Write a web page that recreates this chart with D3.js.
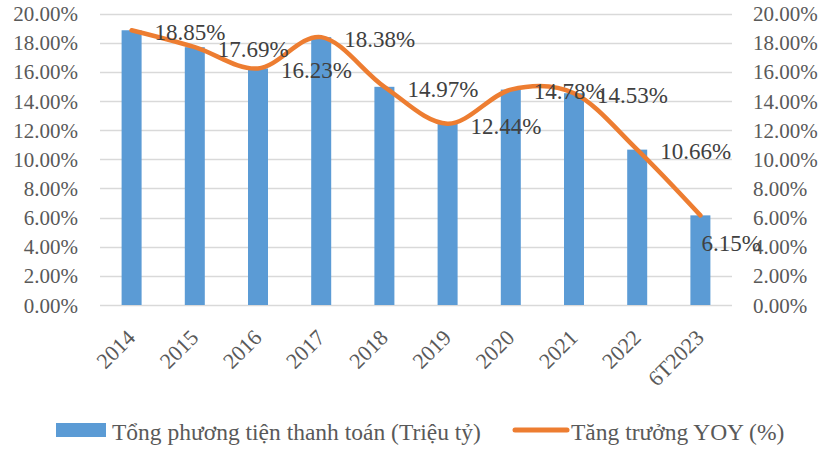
<!DOCTYPE html>
<html>
<head>
<meta charset="utf-8">
<script src="https://cdn.jsdelivr.net/npm/d3@7"></script>
<style>
	html, body { margin: 0; padding: 0; background: #fff; }
	svg { display: block; }
	text { font-family: "Liberation Serif", "Times New Roman", serif; }
</style>
</head>
<body>
<script>
// chart data
var categories = ['2014', '2015', '2016', '2017', '2018', '2019', '2020', '2021', '2022', '6T2023'];
var barValues = [0.1885, 0.1769, 0.1623, 0.1838, 0.1497, 0.1244, 0.1478, 0.1453, 0.1066, 0.0615];
var yoyValues = [0.1885, 0.1769, 0.1623, 0.1838, 0.1497, 0.1244, 0.1478, 0.1453, 0.1066, 0.0615];
var yTicks = [0, 0.02, 0.04, 0.06, 0.08, 0.10, 0.12, 0.14, 0.16, 0.18, 0.20];
var labelPlacement = ['right', 'right', 'right', 'right', 'right', 'right', 'right', 'right', 'right', 'below'];
var seriesNames = ['Tổng phương tiện thanh toán (Triệu tỷ)', 'Tăng trưởng YOY (%)'];

var width = 825,
	height = 451,
	plotLeft = 100,
	plotRight = 732,
	plotTop = 13.5,
	plotBottom = 305,
	barWidth = 20,
	barColor = '#5B9BD5',
	lineColor = '#ED7D31',
	gridColor = '#D9D9D9',
	axisTextColor = '#595959',
	labelColor = '#404040';

var svg = d3.select('body').append('svg')
	.attr('width', width)
	.attr('height', height);

var x = d3.scaleBand()
	.domain(categories)
	.range([plotLeft, plotRight]);

var y = d3.scaleLinear()
	.domain([0, 0.20])
	.range([plotBottom, plotTop]);

// secondary axis, same range as primary
var y2 = d3.scaleLinear()
	.domain([0, 0.20])
	.range([plotBottom, plotTop]);

var pct = d3.format('.2%');

// gridlines
svg.append('g').attr('class', 'grid')
	.selectAll('line').data(yTicks).enter().append('line')
	.attr('x1', plotLeft).attr('x2', plotRight)
	.attr('y1', function (d) { return Math.round(y(d)) + 0.5; })
	.attr('y2', function (d) { return Math.round(y(d)) + 0.5; })
	.attr('stroke', gridColor)
	.attr('stroke-width', 1.3);

// left axis
var yAxisEl = svg.append('g')
	.attr('transform', 'translate(' + 78 + ',0)')
	.call(d3.axisLeft(y).tickValues(yTicks).tickSize(0).tickPadding(0).tickFormat(pct));
yAxisEl.select('.domain').remove();
yAxisEl.selectAll('text')
	.attr('fill', axisTextColor)
	.style('font-size', '21px')
	.attr('dy', '0.34em');

// right axis
var y2AxisEl = svg.append('g')
	.attr('transform', 'translate(' + 753 + ',0)')
	.call(d3.axisRight(y2).tickValues(yTicks).tickSize(0).tickPadding(0).tickFormat(pct));
y2AxisEl.select('.domain').remove();
y2AxisEl.selectAll('text')
	.attr('fill', axisTextColor)
	.style('font-size', '21px')
	.attr('dy', '0.34em');

// x axis labels, rotated
var xAxisEl = svg.append('g')
	.attr('transform', 'translate(0,' + plotBottom + ')')
	.call(d3.axisBottom(x).tickSize(0).tickPadding(0));
xAxisEl.select('.domain').remove();
xAxisEl.selectAll('text')
	.attr('fill', axisTextColor)
	.style('font-size', '22px')
	.attr('text-anchor', 'end')
	.attr('y', 0)
	.attr('dy', 0)
	.attr('transform', 'translate(5,34) rotate(-45)');

// bars
svg.append('g').attr('class', 'bars')
	.selectAll('rect').data(barValues).enter().append('rect')
	.attr('x', function (d, i) { return x(categories[i]) + x.bandwidth() / 2 - barWidth / 2; })
	.attr('y', function (d) { return y(d); })
	.attr('width', barWidth)
	.attr('height', function (d) { return y(0) - y(d); })
	.attr('fill', barColor);

// line (smoothed)
var line = d3.line()
	.x(function (d, i) { return x(categories[i]) + x.bandwidth() / 2; })
	.y(function (d) { return y2(d); })
	.curve(d3.curveCatmullRom.alpha(0));

svg.append('path')
	.datum(yoyValues)
	.attr('d', line)
	.attr('fill', 'none')
	.attr('stroke', lineColor)
	.attr('stroke-width', 4.5)
	.attr('stroke-linecap', 'round')
	.attr('stroke-linejoin', 'round');

// data labels
svg.append('g').attr('class', 'labels')
	.selectAll('text').data(yoyValues).enter().append('text')
	.attr('x', function (d, i) {
		var cx = x(categories[i]) + x.bandwidth() / 2;
		return labelPlacement[i] === 'below' ? cx + 1 : cx + 23;
	})
	.attr('y', function (d, i) {
		return labelPlacement[i] === 'below' ? y2(d) + 28 : y2(d) + 2;
	})
	.attr('dy', '0.34em')
	.attr('fill', labelColor)
	.style('font-size', '23px')
	.text(function (d) { return pct(d); });

// legend
var legend = svg.append('g').attr('class', 'legend');
legend.append('rect')
	.attr('x', 56).attr('y', 423)
	.attr('width', 50).attr('height', 14)
	.attr('fill', barColor);
legend.append('text')
	.attr('x', 112).attr('y', 440)
	.attr('fill', axisTextColor)
	.style('font-size', '23.5px')
	.text(seriesNames[0]);
legend.append('line')
	.attr('x1', 515).attr('x2', 567)
	.attr('y1', 430).attr('y2', 430)
	.attr('stroke', lineColor)
	.attr('stroke-width', 5)
	.attr('stroke-linecap', 'round');
legend.append('text')
	.attr('x', 571).attr('y', 440)
	.attr('fill', axisTextColor)
	.style('font-size', '23.5px')
	.text(seriesNames[1]);
</script>
</body>
</html>
